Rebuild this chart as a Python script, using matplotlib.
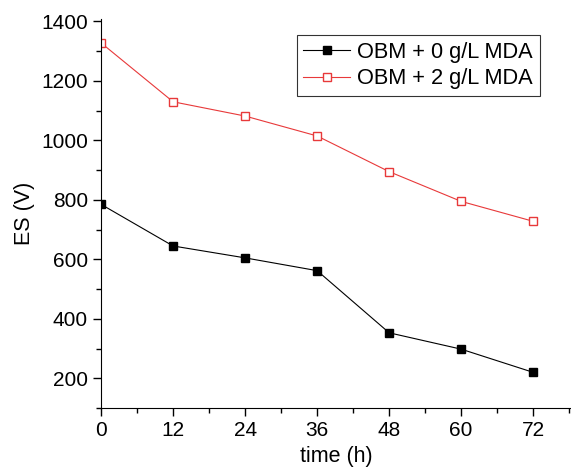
import numpy as np
import matplotlib.pyplot as plt
from matplotlib.ticker import MultipleLocator

plt.rcParams['font.family'] = ['Liberation Sans', 'DejaVu Sans']

time_h = [0, 12, 24, 36, 48, 60, 72]
es_0 = [785, 645, 605, 562, 353, 298, 220]
es_2 = [1328, 1130, 1082, 1015, 895, 795, 728]

fig = plt.figure(figsize=(5.71, 4.75), dpi=100)
ax = fig.add_axes([0.177, 0.141, 0.823, 0.82])

ax.plot(time_h, es_0, color='black', lw=0.8, marker='s', ms=5.5,
        mfc='black', mec='black', label='OBM + 0 g/L MDA')
ax.plot(time_h, es_2, color='#e8393a', lw=0.8, marker='s', ms=5.5,
        mfc='white', mec='#e8393a', label='OBM + 2 g/L MDA')

ax.set_xlim(0, 78.3)
ax.set_ylim(100, 1410)
ax.set_xticks(time_h)
ax.set_yticks([200, 400, 600, 800, 1000, 1200, 1400])
ax.xaxis.set_minor_locator(MultipleLocator(6))
ax.yaxis.set_minor_locator(MultipleLocator(100))
ax.tick_params(which='major', direction='out', length=6, width=1, labelsize=15)
ax.tick_params(which='minor', direction='out', length=3.5, width=1)
ax.spines['top'].set_visible(False)
ax.spines['right'].set_visible(False)
ax.set_xlabel('time (h)', fontsize=15.5)
ax.set_ylabel('ES (V)', fontsize=15.5)

leg = ax.legend(loc='upper right', bbox_to_anchor=(0.933, 0.958), fontsize=15.7,
                frameon=True, fancybox=False, edgecolor='black',
                handlelength=2.15, borderpad=0.32, labelspacing=0.25,
                handletextpad=0.3, borderaxespad=0.0)
leg.get_frame().set_linewidth(0.8)

plt.savefig('out.png', dpi=100)
